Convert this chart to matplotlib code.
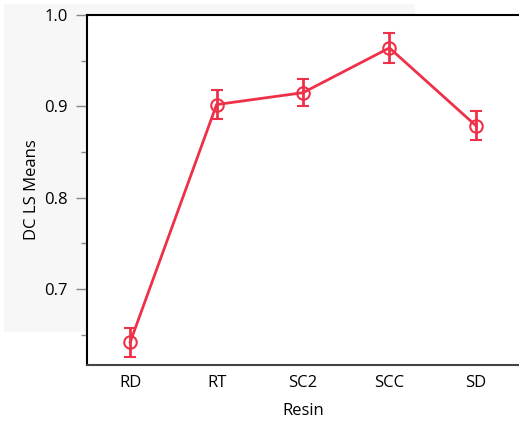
import matplotlib
matplotlib.use("Agg")
import matplotlib.pyplot as plt
from matplotlib.patches import Rectangle
from matplotlib.ticker import MultipleLocator

# dados
resinas = ["RD", "RT", "SC2", "SCC", "SD"]
medias = [0.642, 0.902, 0.915, 0.964, 0.879]
erros = [0.016, 0.016, 0.015, 0.016, 0.016]

plt.rcParams["font.family"] = ["Open Sans", "DejaVu Sans"]
cor = "#EE3148"

fig = plt.figure(figsize=(5.19, 4.24), dpi=100)

# fundo cinza atras do eixo
fig.patches.append(Rectangle((4/519, 1 - 332/424), 411/519, 328/424,
                             transform=fig.transFigure, facecolor="#f7f7f7",
                             edgecolor="none", zorder=-1))

ax = fig.add_axes([87/519, 1 - 365/424, 432/519, 350/424])
ax.set_facecolor("white")

x = list(range(len(resinas)))
ax.errorbar(x, medias, yerr=erros, color=cor, linewidth=2, marker="o",
            markersize=9, markerfacecolor="none", markeredgewidth=1.5,
            elinewidth=2, capsize=4.5, capthick=2)

ax.set_xlim(-0.5, 4.5)
ax.set_ylim(0.617, 1.0)
ax.set_xticks(x)
ax.set_xticklabels(resinas)
ax.yaxis.set_major_locator(MultipleLocator(0.1))
ax.yaxis.set_minor_locator(MultipleLocator(0.05))
ax.yaxis.set_major_formatter(plt.FormatStrFormatter("%.1f"))

ax.spines["right"].set_visible(False)
for s in ["left", "top", "bottom"]:
    ax.spines[s].set_linewidth(1.5)
ax.spines["left"].set_color("black")
ax.spines["top"].set_color("black")
ax.spines["bottom"].set_color("#444444")

ax.tick_params(axis="y", which="major", length=8, width=1, color="#888888",
               labelsize=12, pad=6)
ax.tick_params(axis="y", which="minor", length=4, width=1, color="#888888")
ax.tick_params(axis="x", length=0, labelsize=12, pad=7)

ax.set_xlabel("Resin", fontsize=12, labelpad=9)
ax.set_ylabel("DC LS Means", fontsize=12, labelpad=3)

fig.savefig("out.png", dpi=100)
